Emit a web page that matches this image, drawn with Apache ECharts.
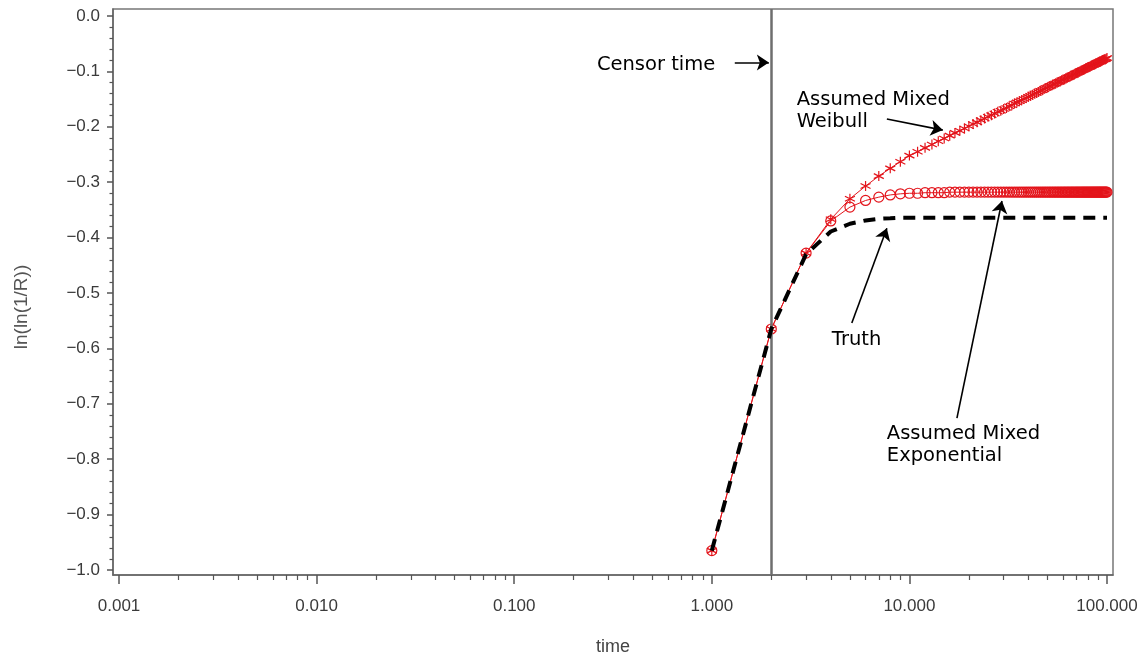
<!DOCTYPE html>
<html>
<head>
<meta charset="utf-8">
<script src="https://cdn.jsdelivr.net/npm/echarts@6/dist/echarts.min.js"></script>
<style>
html,body{margin:0;padding:0;background:#fff;}
#chart{width:1139px;height:655px;}
</style>
</head>
<body>
<div id="chart"></div>
<script>
// ---- data ----
const times = [1,2,3,4,5,6,7,8,9,10,11,12,13,14,15,16,17,18,19,20,
  21,22,23,24,25,26,27,28,29,30,31,32,33,34,35,36,37,38,39,40,
  41,42,43,44,45,46,47,48,49,50,51,52,53,54,55,56,57,58,59,60,
  61,62,63,64,65,66,67,68,69,70,71,72,73,74,75,76,77,78,79,80,
  81,82,83,84,85,86,87,88,89,90,91,92,93,94,95,96,97,98,99,100];

const weibull = [-0.965,-0.565,-0.428,-0.367,-0.330,-0.307,-0.289,-0.275,-0.263,-0.252,
  -0.245,-0.238,-0.232,-0.226,-0.221,-0.216,-0.211,-0.207,-0.203,-0.199,
  -0.195,-0.192,-0.188,-0.185,-0.182,-0.179,-0.176,-0.173,-0.171,-0.168,
  -0.166,-0.163,-0.161,-0.158,-0.156,-0.154,-0.152,-0.150,-0.148,-0.146,
  -0.144,-0.142,-0.140,-0.139,-0.137,-0.135,-0.134,-0.132,-0.130,-0.129,
  -0.127,-0.126,-0.124,-0.123,-0.122,-0.120,-0.119,-0.118,-0.116,-0.115,
  -0.114,-0.113,-0.111,-0.110,-0.109,-0.108,-0.107,-0.106,-0.104,-0.103,
  -0.102,-0.101,-0.100,-0.099,-0.098,-0.097,-0.096,-0.095,-0.094,-0.093,
  -0.092,-0.091,-0.090,-0.089,-0.088,-0.088,-0.087,-0.086,-0.085,-0.084,
  -0.083,-0.082,-0.082,-0.081,-0.080,-0.079,-0.078,-0.078,-0.077,-0.076];

const exponential = [-0.965,-0.565,-0.428,-0.370,-0.345,-0.333,-0.327,-0.323,-0.321,-0.320,
  -0.320,-0.319,-0.319,-0.319,-0.319,-0.318,-0.318,-0.318,-0.318,-0.318,
  -0.318,-0.318,-0.318,-0.318,-0.318,-0.318,-0.318,-0.318,-0.318,-0.318,
  -0.318,-0.318,-0.318,-0.318,-0.318,-0.318,-0.318,-0.318,-0.318,-0.318,
  -0.318,-0.318,-0.318,-0.318,-0.318,-0.318,-0.318,-0.318,-0.318,-0.318,
  -0.318,-0.318,-0.318,-0.318,-0.318,-0.318,-0.318,-0.318,-0.318,-0.318,
  -0.318,-0.318,-0.318,-0.318,-0.318,-0.318,-0.318,-0.318,-0.318,-0.318,
  -0.318,-0.318,-0.318,-0.318,-0.318,-0.318,-0.318,-0.318,-0.318,-0.318,
  -0.318,-0.318,-0.318,-0.318,-0.318,-0.318,-0.318,-0.318,-0.318,-0.318,
  -0.318,-0.318,-0.318,-0.318,-0.318,-0.318,-0.318,-0.318,-0.318,-0.318];

const truth = [-0.965,-0.565,-0.430,-0.389,-0.375,-0.369,-0.366,-0.365,-0.364,-0.364,
  -0.364,-0.364,-0.364,-0.364,-0.364,-0.364,-0.364,-0.364,-0.364,-0.364,
  -0.364,-0.364,-0.364,-0.364,-0.364,-0.364,-0.364,-0.364,-0.364,-0.364,
  -0.364,-0.364,-0.364,-0.364,-0.364,-0.364,-0.364,-0.364,-0.364,-0.364,
  -0.364,-0.364,-0.364,-0.364,-0.364,-0.364,-0.364,-0.364,-0.364,-0.364,
  -0.364,-0.364,-0.364,-0.364,-0.364,-0.364,-0.364,-0.364,-0.364,-0.364,
  -0.364,-0.364,-0.364,-0.364,-0.364,-0.364,-0.364,-0.364,-0.364,-0.364,
  -0.364,-0.364,-0.364,-0.364,-0.364,-0.364,-0.364,-0.364,-0.364,-0.364,
  -0.364,-0.364,-0.364,-0.364,-0.364,-0.364,-0.364,-0.364,-0.364,-0.364,
  -0.364,-0.364,-0.364,-0.364,-0.364,-0.364,-0.364,-0.364,-0.364,-0.364];

const censorTime = 2;

// tick labels / tick positions
const xMajorTicks = [0.001, 0.01, 0.1, 1, 10, 100];
const xMajorLabels = ['0.001', '0.010', '0.100', '1.000', '10.000', '100.000'];
const xMinorTicks = [0.002,0.003,0.004,0.005,0.006,0.007,0.008,0.009,
  0.02,0.03,0.04,0.05,0.06,0.07,0.08,0.09,
  0.2,0.3,0.4,0.5,0.6,0.7,0.8,0.9,
  2,3,4,5,6,7,8,9,
  20,30,40,50,60,70,80,90];
const yMajorTicks = [-1.0,-0.9,-0.8,-0.7,-0.6,-0.5,-0.4,-0.3,-0.2,-0.1,0.0];
const yMajorLabels = ['−1.0','−0.9','−0.8','−0.7','−0.6','−0.5','−0.4','−0.3','−0.2','−0.1','0.0'];
const yMinorTicks = [-0.98,-0.96,-0.94,-0.92,-0.88,-0.86,-0.84,-0.82,-0.78,-0.76,-0.74,-0.72,
  -0.68,-0.66,-0.64,-0.62,-0.58,-0.56,-0.54,-0.52,-0.48,-0.46,-0.44,-0.42,
  -0.38,-0.36,-0.34,-0.32,-0.28,-0.26,-0.24,-0.22,-0.18,-0.16,-0.14,-0.12,
  -0.08,-0.06,-0.04,-0.02];

// annotations (data coordinates)
const annotTexts = [
  {text: 'Censor time', coord: [0.262, -0.088]},
  {text: 'Assumed Mixed\nWeibull', coord: [2.69, -0.171]},
  {text: 'Truth', coord: [4.05, -0.585]},
  {text: 'Assumed Mixed\nExponential', coord: [7.69, -0.774]}
];
const annotArrows = [
  [[1.307, -0.084], [1.944, -0.084]],
  [[7.69, -0.186], [14.76, -0.206]],
  [[5.11, -0.554], [7.69, -0.383]],
  [[17.4, -0.726], [29.4, -0.334]]
];

// ---- chart ----
const RED = '#e3141b';
const chart = echarts.init(document.getElementById('chart'), null, {renderer: 'canvas'});
const pair = (vals) => times.map((t, i) => [t, vals[i]]);
const starPath = 'path://M5,0L5,10M0.67,2.5L9.33,7.5M0.67,7.5L9.33,2.5';
const tickFont = {fontFamily: '"Liberation Sans", Arial, sans-serif', fontSize: 17, color: '#3a3a3a'};

chart.setOption({
  animation: false,
  backgroundColor: '#fff',
  grid: {left: 113, right: 26, top: 9, bottom: 80, containLabel: false, outerBoundsMode: 'none',
    show: true, borderColor: '#777', borderWidth: 1.5, backgroundColor: 'transparent'},
  xAxis: [{
    type: 'log', logBase: 10, min: 0.000932, max: 107.25, position: 'bottom',
    name: 'time', nameLocation: 'middle', nameGap: 63,
    nameTextStyle: {fontFamily: '"Liberation Sans", Arial, sans-serif', fontSize: 18, color: '#444'},
    axisLine: {show: true, onZero: false, lineStyle: {color: '#666', width: 1.5}},
    axisTick: {show: true, inside: false, length: 9, lineStyle: {color: '#555', width: 1.5}, customValues: xMajorTicks},
    axisLabel: {show: true, margin: 23, customValues: xMajorTicks,
      formatter: (v) => xMajorLabels[xMajorTicks.findIndex(m => Math.abs(Math.log10(m) - Math.log10(v)) < 1e-6)] || '',
      ...tickFont},
    splitLine: {show: false}, minorTick: {show: false}
  }, {
    type: 'log', logBase: 10, min: 0.000932, max: 107.25, position: 'bottom', offset: 0,
    axisLine: {show: false, onZero: false},
    axisTick: {show: true, inside: false, length: 5, lineStyle: {color: '#555', width: 1.2}, customValues: xMinorTicks},
    axisLabel: {show: false}, splitLine: {show: false}
  }],
  yAxis: [{
    type: 'value', min: -1.009, max: 0.0126, position: 'left',
    name: 'ln(ln(1/R))', nameLocation: 'middle', nameGap: 82, nameRotate: 90,
    nameTextStyle: {fontFamily: '"Liberation Sans", Arial, sans-serif', fontSize: 19, color: '#555', padding: [0, 30, 0, 0]},
    axisLine: {show: true, onZero: false, lineStyle: {color: '#666', width: 1.5}},
    axisTick: {show: true, inside: false, length: 6, lineStyle: {color: '#555', width: 1.5}, customValues: yMajorTicks},
    axisLabel: {show: true, margin: 13, customValues: yMajorTicks,
      formatter: (v) => yMajorLabels[yMajorTicks.findIndex(m => Math.abs(m - v) < 1e-6)] || '',
      ...tickFont},
    splitLine: {show: false}
  }, {
    type: 'value', min: -1.009, max: 0.0126, position: 'left', offset: 0,
    axisLine: {show: false, onZero: false},
    axisTick: {show: true, inside: false, length: 3.5, lineStyle: {color: '#555', width: 1.2}, customValues: yMinorTicks},
    axisLabel: {show: false}, splitLine: {show: false}
  }],
  series: [
    {
      name: 'Assumed Mixed Exponential', type: 'line', data: pair(exponential),
      xAxisIndex: 0, yAxisIndex: 0, z: 3,
      symbol: 'circle', symbolSize: 10, showSymbol: true, showAllSymbol: true,
      lineStyle: {color: RED, width: 1},
      itemStyle: {color: 'rgba(0,0,0,0)', borderColor: RED, borderWidth: 1.2},
      markLine: {
        silent: true, symbol: ['none', 'none'], label: {show: false},
        lineStyle: {color: '#6e6e6e', width: 2.5, type: 'solid'},
        data: [{xAxis: censorTime}]
      }
    },
    {
      name: 'Assumed Mixed Weibull', type: 'line', data: pair(weibull),
      xAxisIndex: 0, yAxisIndex: 0, z: 4,
      symbol: starPath, symbolSize: 10, showSymbol: true, showAllSymbol: true,
      lineStyle: {color: RED, width: 1},
      itemStyle: {color: 'rgba(0,0,0,0)', borderColor: RED, borderWidth: 1.2}
    },
    {
      name: 'Truth', type: 'line', data: pair(truth),
      xAxisIndex: 0, yAxisIndex: 0, z: 5,
      symbol: 'none', showSymbol: false,
      lineStyle: {color: '#000', width: 4, type: [12, 8]},
      markLine: {
        silent: true, symbol: ['none', 'arrow'], symbolSize: 12, label: {show: false},
        lineStyle: {color: '#000', width: 1.6, type: 'solid'},
        data: annotArrows.map(a => [{coord: a[0]}, {coord: a[1]}])
      },
      markPoint: {
        silent: true, symbol: 'circle', symbolSize: 0,
        label: {show: true, position: [0, 0], align: 'left', verticalAlign: 'middle',
          fontFamily: '"DejaVu Sans", sans-serif', fontSize: 19.5, lineHeight: 22, color: '#000'},
        data: annotTexts.map(a => ({coord: a.coord, value: a.text, label: {formatter: a.text}}))
      }
    }
  ]
});
</script>
</body>
</html>
